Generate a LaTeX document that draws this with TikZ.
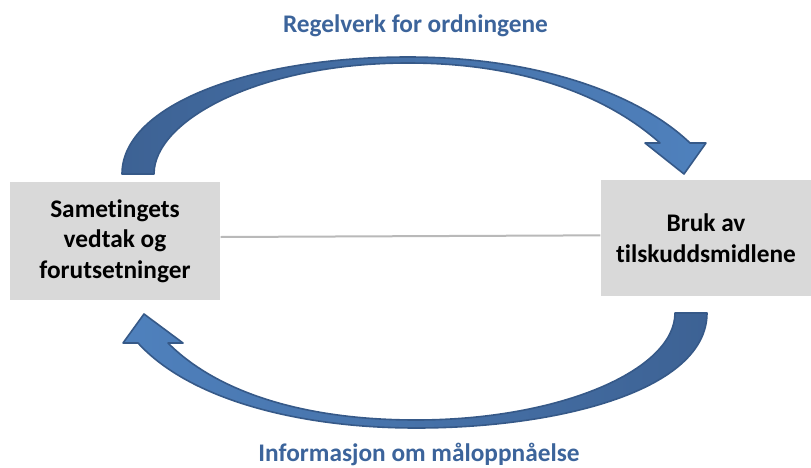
\documentclass[tikz,border=0pt]{standalone}
\usepackage{fontspec}
\setmainfont[Ligatures=NoCommon]{Carlito}
\usepackage{tikz}
\usetikzlibrary{positioning}
\definecolor{boxgray}{RGB}{217,217,217}
\definecolor{textblue}{RGB}{60,100,155}
\definecolor{arrowdark}{RGB}{61,98,148}
\definecolor{arrowlight}{RGB}{79,129,189}
\definecolor{arrowline}{RGB}{54,89,136}
\newlength{\boxwidth}
\setlength{\boxwidth}{158pt}
\tikzset{box/.style = {shape=rectangle,fill=boxgray,minimum width=\boxwidth,minimum height=88pt,align=center,font=\fontsize{19}{23}\selectfont\bfseries}}
\tikzset{heading/.style = {text=textblue,anchor=base,font=\fontsize{19}{23}\selectfont\bfseries}}
\tikzset{edge/.style = {draw=gray!55,line width=1.5pt}}
\tikzset{bigarrow/.style = {draw=arrowline,line width=1.2pt,line join=round}}

\begin{document}
\begin{tikzpicture}[x=0.75pt,y=-0.75pt]
                \useasboundingbox (0,0) rectangle (811,468);
                \node[box] (vedtak) at (115,241) {Sametingets\\vedtak og\\forutsetninger};
                \node[box, minimum height=87pt] (bruk) at (706,238) {Bruk av\\tilskuddsmidlene};
                \draw[edge] ([yshift=3pt]vedtak.east) -- ([yshift=2pt]bruk.west);
                \node[heading] (regelverk) at (415.5,32) {Regelverk for ordningene};
                \node[heading] (informasjon) at (419,461) {Informasjon om måloppnåelse};
                % upper arrow, left box to right box
                \draw[bigarrow, left color=arrowdark, right color=arrowlight]
                    (122,174) .. controls (122,105) and (250,57) .. (408,57)
                    .. controls (540,57) and (640,95) .. (690,143)
                    -- (706,143) -- (684,174) -- (645,143) -- (660,143)
                    .. controls (612,100) and (530,63) .. (408,63)
                    .. controls (260,63) and (154,120) .. (154,174) -- cycle;
                % lower arrow, right box back to left box
                \draw[bigarrow, left color=arrowlight, right color=arrowdark]
                    (707,313) .. controls (707,390) and (560,428) .. (416,428)
                    .. controls (300,428) and (190,400) .. (138,343)
                    -- (123,343) -- (144,314) -- (183,343) -- (168,343)
                    .. controls (220,395) and (310,420) .. (416,420)
                    .. controls (560,420) and (675,370) .. (675,313) -- cycle;
            \end{tikzpicture}
\end{document}
